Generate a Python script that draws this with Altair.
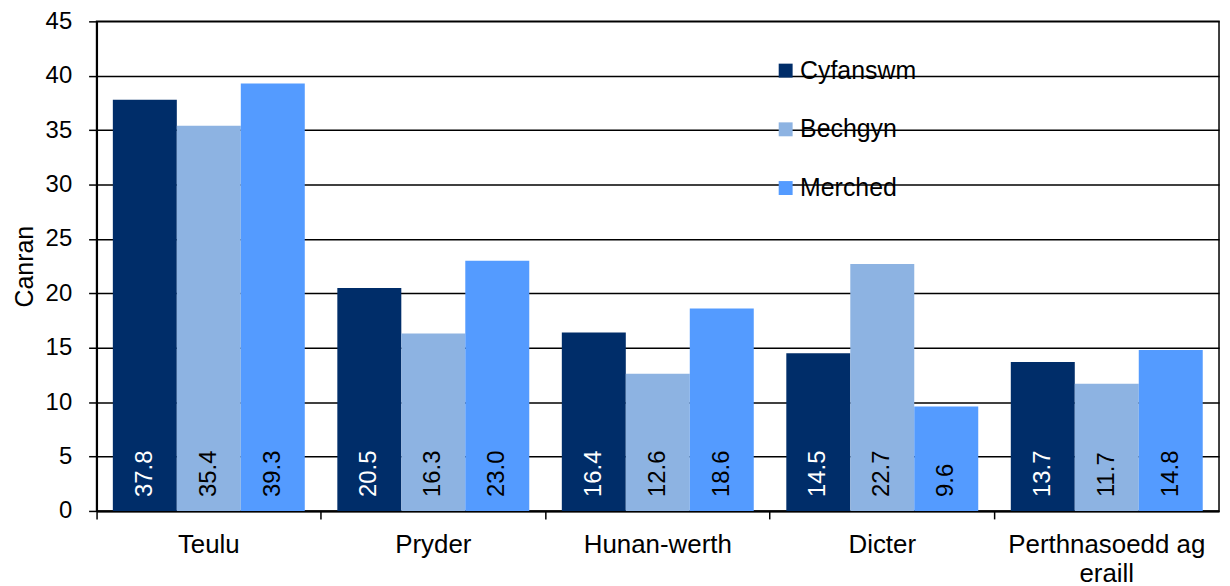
import altair as alt
import pandas as pd

categories = ["Teulu", "Pryder", "Hunan-werth", "Dicter", "Perthnasoedd ag eraill"]
series = ["Cyfanswm", "Bechgyn", "Merched"]
cyfanswm = [37.8, 20.5, 16.4, 14.5, 13.7]
bechgyn = [35.4, 16.3, 12.6, 22.7, 11.7]
merched = [39.3, 23.0, 18.6, 9.6, 14.8]
colors = ["#002D69", "#8DB3E2", "#549BFF"]
y_ticks = list(range(0, 50, 5))

rows = []
for s, vals in zip(series, [cyfanswm, bechgyn, merched]):
    for c, v in zip(categories, vals):
        rows.append({"cat": c, "series": s, "value": v, "label": f"{v:.1f}"})
df = pd.DataFrame(rows)

FONT = "Liberation Sans"

x = alt.X(
    "cat:N", sort=categories, title=None,
    scale=alt.Scale(paddingInner=0.145, paddingOuter=0.0725),
    axis=alt.Axis(
        labelAngle=0, bandPosition=-0.0846, tickSize=8, tickColor="black", tickWidth=1.5,
        domainColor="black", domainWidth=2, labelFontSize=26, labelColor="black",
        labelFont=FONT, labelPadding=13, labelLineHeight=29, labelOverlap=False,
        labelLimit=400,
        labelExpr="datum.value == 'Perthnasoedd ag eraill' ? ['Perthnasoedd ag', 'eraill'] : datum.value",
        grid=False,
    ),
)
xoff = alt.XOffset("series:N", sort=series, scale=alt.Scale(paddingInner=0, paddingOuter=0))
y = alt.Y(
    "value:Q",
    scale=alt.Scale(domain=[0, 45], nice=False),
    axis=alt.Axis(
        values=y_ticks, title="Canran", grid=True, gridColor="black", gridWidth=1.5,
        tickSize=8, tickColor="black", tickWidth=1.5, domainColor="black", domainWidth=2,
        labelFontSize=24, labelFont=FONT, labelColor="black", labelPadding=17,
        titleFontSize=25, titleFont=FONT, titleFontWeight="normal", titleColor="black",
        titlePadding=8,
    ),
)

bars = alt.Chart(df).mark_bar().encode(
    x=x, xOffset=xoff, y=y,
    color=alt.Color(
        "series:N", sort=series,
        scale=alt.Scale(domain=series, range=colors),
        legend=alt.Legend(
            title=None, orient="none", legendX=680, legendY=37, symbolType="square",
            symbolSize=196, symbolStrokeWidth=0, labelFontSize=25, labelFont=FONT,
            labelColor="black", rowPadding=33, labelOffset=2, symbolOpacity=1,
        ),
    ),
)

labels = alt.Chart(df).transform_calculate(value="0").mark_text(
    angle=270, align="left", baseline="middle", dx=14, fontSize=24, font=FONT
).encode(
    x=x, xOffset=xoff, y=y,
    text="label:N",
    color=alt.condition("datum.series == 'Cyfanswm'", alt.value("white"), alt.value("black")),
)

chart = (
    alt.layer(bars, labels)
    .properties(
        width=1128, height=492,
        autosize=alt.AutoSizeParams(type="none"),
        padding={"left": 89, "top": 12, "right": 3, "bottom": 74},
        background="white",
    )
    .configure_view(stroke="black", strokeWidth=1.5)
)

chart.save("out.html", embed_options={"renderer": "svg", "actions": False})
